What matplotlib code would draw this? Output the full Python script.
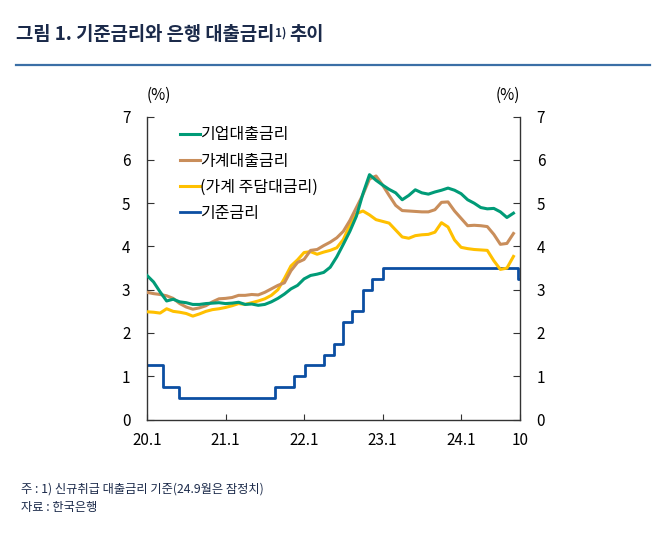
import matplotlib
matplotlib.use('Agg')
import matplotlib.pyplot as plt
from matplotlib.lines import Line2D

plt.rcParams['font.family'] = ['Noto Sans CJK KR', 'DejaVu Sans']

# Monthly data, 2020.1 ~ 2024.9 (month index 0 = 2020.1)
months = list(range(57))
corp_rate = [3.33, 3.18, 2.95, 2.74, 2.78, 2.72, 2.70, 2.66, 2.66, 2.68,
             2.69, 2.70, 2.68, 2.69, 2.71, 2.66, 2.67, 2.64, 2.66, 2.72,
             2.80, 2.90, 3.02, 3.10, 3.25, 3.33, 3.36, 3.40, 3.52, 3.76,
             4.05, 4.35, 4.70, 5.22, 5.66, 5.53, 5.42, 5.32, 5.24, 5.08,
             5.18, 5.31, 5.24, 5.21, 5.26, 5.30, 5.35, 5.30, 5.22, 5.08,
             5.00, 4.90, 4.87, 4.88, 4.80, 4.67, 4.77]
household_rate = [2.94, 2.91, 2.89, 2.86, 2.80, 2.68, 2.60, 2.55, 2.58, 2.63,
                  2.72, 2.79, 2.80, 2.82, 2.87, 2.87, 2.89, 2.88, 2.94, 3.02,
                  3.10, 3.16, 3.44, 3.63, 3.70, 3.91, 3.93, 4.02, 4.10, 4.20,
                  4.35, 4.60, 4.90, 5.20, 5.56, 5.63, 5.42, 5.18, 4.95, 4.83,
                  4.82, 4.81, 4.80, 4.80, 4.85, 5.02, 5.03, 4.82, 4.65, 4.48,
                  4.49, 4.48, 4.46, 4.28, 4.05, 4.07, 4.30]
mortgage_rate = [2.49, 2.48, 2.46, 2.56, 2.50, 2.48, 2.45, 2.39, 2.44, 2.50,
                 2.54, 2.56, 2.59, 2.63, 2.68, 2.66, 2.70, 2.74, 2.79, 2.87,
                 3.00, 3.26, 3.55, 3.69, 3.86, 3.88, 3.82, 3.87, 3.91, 3.97,
                 4.16, 4.50, 4.76, 4.82, 4.73, 4.62, 4.58, 4.54, 4.38, 4.22,
                 4.19, 4.25, 4.27, 4.28, 4.33, 4.55, 4.45, 4.15, 3.98, 3.95,
                 3.93, 3.92, 3.91, 3.67, 3.47, 3.50, 3.77]

# Base rate: change points (in months from 2020.1) and levels
base_x = [0, 2.45, 4.9, 19.6, 22.5, 24.1, 27.1, 28.5, 29.9, 31.4, 33.0, 34.4, 36.1, 56.7, 57]
base_rate = [1.25, 0.75, 0.5, 0.75, 1.0, 1.25, 1.5, 1.75, 2.25, 2.5, 3.0, 3.25, 3.5, 3.25, 3.25]

tick_pos = [0, 12, 24, 36, 48, 57]
tick_labels = ['20.1', '21.1', '22.1', '23.1', '24.1', '10']

labels = ['기업대출금리', '가계대출금리', '(가계 주담대금리)', '기준금리']
colors = ['#009B77', '#C98E5B', '#FFC000', '#0B4EA2']

navy = '#1B2A4A'

fig = plt.figure(figsize=(6.58, 5.34), dpi=100)
ax = fig.add_axes([147/658, 1 - 419.5/534, 373/658, 302.8/534])

# Title with superscript
t1 = fig.text(16/658, 1 - 35/534, '그림 1. 기준금리와 은행 대출금리', fontsize=13.5,
              fontweight='bold', color=navy, ha='left', va='center')
ax.annotate('1)', xy=(1, 1), xycoords=t1, xytext=(0.3, -1), textcoords='offset points',
            fontsize=8.5, fontweight='bold', color=navy, ha='left', va='top',
            annotation_clip=False)
ax.annotate('추이', xy=(1, 0), xycoords=t1, xytext=(11, 0), textcoords='offset points',
            fontsize=13.5, fontweight='bold', color=navy, ha='left', va='bottom',
            annotation_clip=False)
fig.add_artist(Line2D([16/658, 650/658], [1 - 65/534, 1 - 65/534],
                      color='#3B6FA6', lw=1.6))

ax.step(base_x, base_rate, where='post', color=colors[3], lw=2, label=labels[3], zorder=2)
ax.plot(months, mortgage_rate, color=colors[2], lw=2.2, label=labels[2], zorder=3)
ax.plot(months, household_rate, color=colors[1], lw=2.2, label=labels[1], zorder=4)
ax.plot(months, corp_rate, color=colors[0], lw=2.2, label=labels[0], zorder=5)

ax.set_xlim(0, 57)
ax.set_ylim(0, 7)
ax.set_yticks(range(8))
ax.set_xticks(tick_pos)
ax.set_xticklabels(tick_labels)

for s in ['left', 'right', 'bottom']:
    ax.spines[s].set_color('#333333')
    ax.spines[s].set_linewidth(1)
ax.spines['top'].set_visible(False)

ax.tick_params(axis='y', direction='in', left=True, right=True,
               labelleft=True, labelright=True, length=5, pad=12,
               labelsize=11, color='#333333')
ax.tick_params(axis='x', direction='in', length=4, pad=9, labelsize=11,
               color='#333333')

ax.text(0, 1.07, '(%)', transform=ax.transAxes, ha='left', va='center', fontsize=11)
ax.text(1, 1.07, '(%)', transform=ax.transAxes, ha='right', va='center', fontsize=11)

handles, lbls = ax.get_legend_handles_labels()
order = [lbls.index(l) for l in labels]
ax.legend([handles[i] for i in order], [lbls[i] for i in order],
          loc='upper left', bbox_to_anchor=(0.062, 1.0), frameon=False,
          fontsize=11.5, handlelength=1.25, handletextpad=0.05, labelspacing=0.58,
          borderaxespad=0.2)

fig.text(21/658, 1 - 489/534, '주 : 1) 신규취급 대출금리 기준(24.9월은 잠정치)',
         fontsize=8.8, color=navy, ha='left', va='center')
fig.text(21/658, 1 - 507/534, '자료 : 한국은행',
         fontsize=8.8, color=navy, ha='left', va='center')

fig.savefig('out.png', dpi=100)
